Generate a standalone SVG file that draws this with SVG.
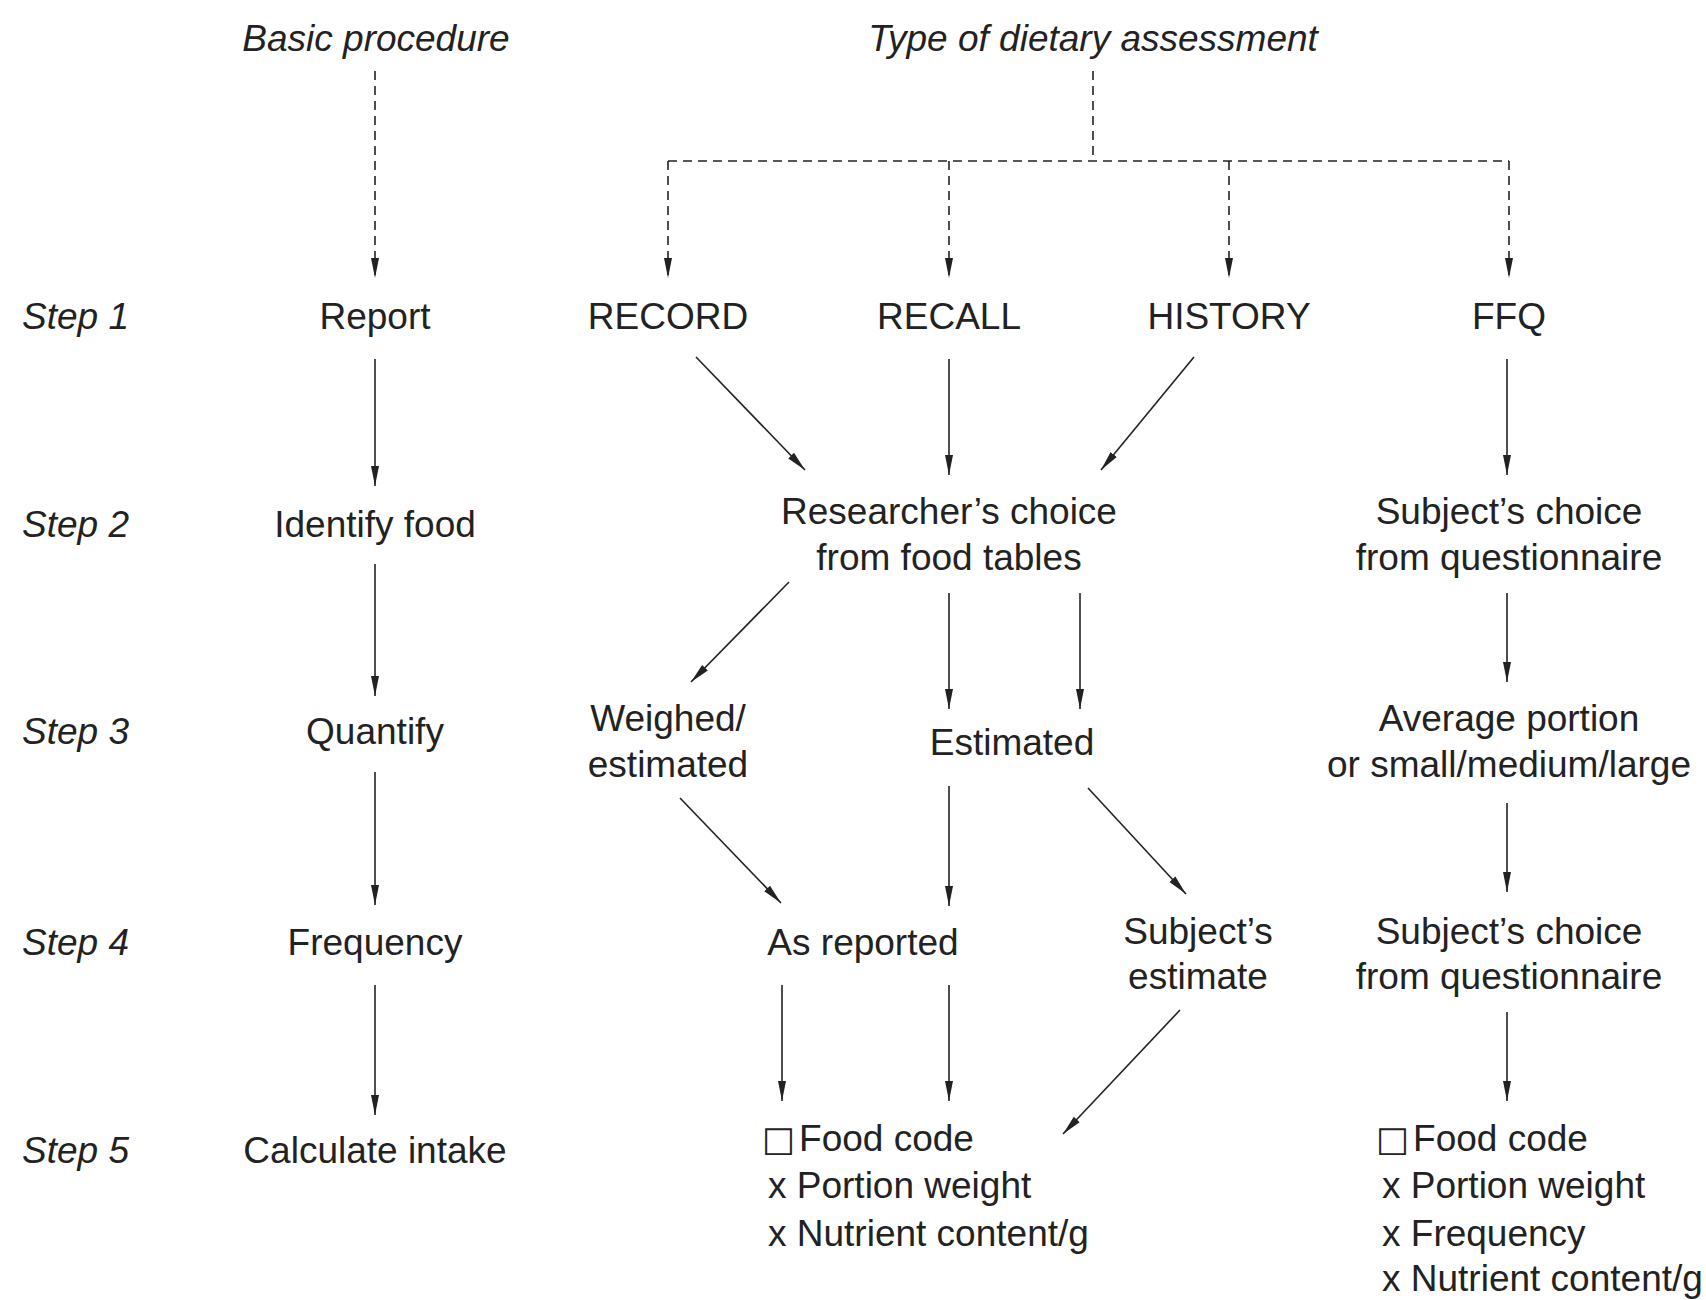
<svg xmlns="http://www.w3.org/2000/svg" width="1706" height="1300" viewBox="0 0 1706 1300">
<style>
text{font-family:"Liberation Sans",Arial,sans-serif;font-size:37px;fill:#222;}
.it{font-style:italic;}
.c{text-anchor:middle;}
.ln{stroke:#222;stroke-width:1.6;fill:none;marker-end:url(#ah);}
.dl{stroke:#222;stroke-width:1.6;fill:none;stroke-dasharray:9 6;}
.da{stroke:#222;stroke-width:1.6;fill:none;stroke-dasharray:9 6;marker-end:url(#ah);}
.bx{font-family:"DejaVu Sans",sans-serif;font-size:35px;}
</style>
<defs>
<marker id="ah" viewBox="0 0 20 10" refX="20" refY="5" markerWidth="20" markerHeight="10" markerUnits="userSpaceOnUse" orient="auto">
<path d="M0,1 L20,5 L0,9 z" fill="#222"/>
</marker>
</defs>
<rect width="1706" height="1300" fill="#fff"/>

<g id="headers">
<text class="it c" x="376" y="51">Basic procedure</text>
<text class="it c" x="1093" y="51">Type of dietary assessment</text>
</g>
<g id="steps">
<text class="it" x="22" y="329">Step 1</text>
<text class="it" x="22" y="537">Step 2</text>
<text class="it" x="22" y="744">Step 3</text>
<text class="it" x="22" y="955">Step 4</text>
<text class="it" x="22" y="1163">Step 5</text>
</g>

<g id="n-report"><text class="c" x="375" y="329">Report</text></g>
<g id="n-identify"><text class="c" x="375" y="537">Identify food</text></g>
<g id="n-quantify"><text class="c" x="375" y="744">Quantify</text></g>
<g id="n-frequency"><text class="c" x="375" y="955">Frequency</text></g>
<g id="n-calculate"><text class="c" x="375" y="1163">Calculate intake</text></g>

<g id="n-record"><text class="c" x="668" y="329">RECORD</text></g>
<g id="n-recall"><text class="c" x="949" y="329">RECALL</text></g>
<g id="n-history"><text class="c" x="1229" y="329">HISTORY</text></g>
<g id="n-ffq"><text class="c" x="1509" y="329">FFQ</text></g>

<g id="n-researcher"><text class="c" x="949" y="524">Researcher’s choice</text><text class="c" x="949" y="570">from food tables</text></g>
<g id="n-subjchoice1"><text class="c" x="1509" y="524">Subject’s choice</text><text class="c" x="1509" y="570">from questionnaire</text></g>

<g id="n-weighed"><text class="c" x="668" y="731">Weighed/</text><text class="c" x="668" y="777">estimated</text></g>
<g id="n-estimated"><text class="c" x="1012" y="755">Estimated</text></g>
<g id="n-average"><text class="c" x="1509" y="731">Average portion</text><text class="c" x="1509" y="777">or small/medium/large</text></g>

<g id="n-asreported"><text class="c" x="863" y="955">As reported</text></g>
<g id="n-subjestimate"><text class="c" x="1198" y="944">Subject’s</text><text class="c" x="1198" y="989">estimate</text></g>
<g id="n-subjchoice2"><text class="c" x="1509" y="944">Subject’s choice</text><text class="c" x="1509" y="989">from questionnaire</text></g>

<g id="n-calc-left">
<text x="762" y="1151"><tspan class="bx">□</tspan><tspan dx="4">Food code</tspan></text>
<text x="768" y="1198">x Portion weight</text>
<text x="768" y="1246">x Nutrient content/g</text>
</g>
<g id="n-calc-right">
<text x="1376" y="1151"><tspan class="bx">□</tspan><tspan dx="4">Food code</tspan></text>
<text x="1382" y="1198">x Portion weight</text>
<text x="1382" y="1246">x Frequency</text>
<text x="1382" y="1291">x Nutrient content/g</text>
</g>

<g id="connectors">
<path class="da" d="M375,71 L375,278"/>
<path class="dl" d="M1093,71 L1093,161"/>
<path class="dl" d="M668,161 L1509,161"/>
<path class="da" d="M668,161 L668,278"/>
<path class="da" d="M949,161 L949,278"/>
<path class="da" d="M1229,161 L1229,278"/>
<path class="da" d="M1509,161 L1509,278"/>

<path class="ln" d="M375,359 L375,486"/>
<path class="ln" d="M375,564 L375,696"/>
<path class="ln" d="M375,772 L375,905"/>
<path class="ln" d="M375,985 L375,1115"/>

<path class="ln" d="M696,357 L805,470"/>
<path class="ln" d="M949,359 L949,475"/>
<path class="ln" d="M1194,357 L1101,470"/>
<path class="ln" d="M1507,359 L1507,475"/>

<path class="ln" d="M789,582 L691,682"/>
<path class="ln" d="M949,593 L949,709"/>
<path class="ln" d="M1080,593 L1080,709"/>
<path class="ln" d="M1507,593 L1507,682"/>

<path class="ln" d="M680,798 L781,903"/>
<path class="ln" d="M949,786 L949,906"/>
<path class="ln" d="M1088,788 L1186,894"/>
<path class="ln" d="M1507,803 L1507,892"/>

<path class="ln" d="M782,985 L782,1101"/>
<path class="ln" d="M949,985 L949,1101"/>
<path class="ln" d="M1180,1010 L1063,1134"/>
<path class="ln" d="M1507,1012 L1507,1101"/>
</g>
</svg>
